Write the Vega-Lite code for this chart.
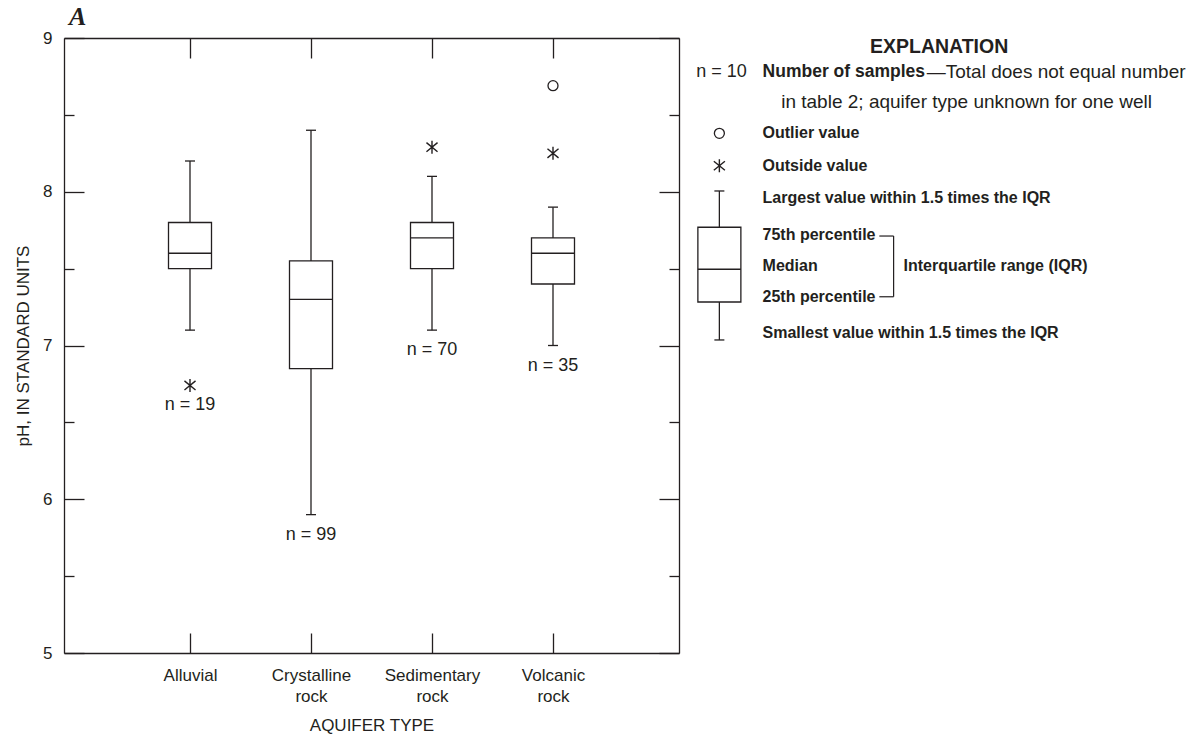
{
  "$schema": "https://vega.github.io/schema/vega-lite/v6.json",
  "width": 615,
  "height": 615,
  "autosize": {"type": "none"},
  "padding": {"left": 64, "top": 38, "right": 523, "bottom": 81},
  "background": "white",
  "config": {
    "view": {"stroke": null},
    "font": "Liberation Sans",
    "axis": {
      "domainColor": "#231f20",
      "tickColor": "#231f20",
      "labelColor": "#231f20",
      "titleColor": "#231f20",
      "domainWidth": 1.3,
      "tickWidth": 1.3,
      "grid": false,
      "labelFont": "Liberation Sans",
      "titleFont": "Liberation Sans",
      "titleFontWeight": "normal",
      "labelFlush": false,
      "labelOverlap": false,
      "labelBound": false
    }
  },
  "datasets": {
    "boxes": [
      {"type": "Alluvial", "pos": 1, "lo": 7.1, "q1": 7.5, "med": 7.6, "q3": 7.8, "hi": 8.2, "bottom": 6.74, "label": "n = 19"},
      {"type": "Crystalline rock", "pos": 2, "lo": 5.9, "q1": 6.85, "med": 7.3, "q3": 7.55, "hi": 8.4, "bottom": 5.9, "label": "n = 99"},
      {"type": "Sedimentary rock", "pos": 3, "lo": 7.1, "q1": 7.5, "med": 7.7, "q3": 7.8, "hi": 8.1, "bottom": 7.1, "label": "n = 70"},
      {"type": "Volcanic rock", "pos": 4, "lo": 7.0, "q1": 7.4, "med": 7.6, "q3": 7.7, "hi": 7.9, "bottom": 7.0, "label": "n = 35"},
      {"type": "Explanation", "pos": 5.375, "lo": 7.036, "q1": 7.283, "med": 7.496, "q3": 7.769, "hi": 8.005}
    ],
    "points": [
      {"pos": 1, "ph": 6.74, "kind": "outside"},
      {"pos": 3, "ph": 8.29, "kind": "outside"},
      {"pos": 4, "ph": 8.25, "kind": "outside"},
      {"pos": 4, "ph": 8.69, "kind": "outlier"},
      {"pos": 5.375, "ph": 8.169, "kind": "outside"},
      {"pos": 5.375, "ph": 8.38, "kind": "outlier"}
    ]
  },
  "layer": [
    {
      "data": {"name": "boxes"},
      "mark": {"type": "rule", "color": "#231f20", "strokeWidth": 1.3},
      "encoding": {
        "x": {
          "field": "pos", "type": "quantitative",
          "scale": {"domain": [0, 5], "nice": false, "zero": false},
          "axis": {
            "orient": "bottom",
            "values": [1, 2, 3, 4],
            "tickSize": -20,
            "labelExpr": "datum.value == 1 ? 'Alluvial' : datum.value == 2 ? ['Crystalline', 'rock'] : datum.value == 3 ? ['Sedimentary', 'rock'] : ['Volcanic', 'rock']",
            "labelFontSize": 17,
            "labelLineHeight": 21,
            "labelPadding": 34,
            "title": "AQUIFER TYPE",
            "titleFontSize": 17,
            "titlePadding": 13
          }
        },
        "y": {
          "field": "lo", "type": "quantitative",
          "scale": {"domain": [5, 9], "nice": false, "zero": false},
          "axis": {
            "orient": "left",
            "values": [5, 5.5, 6, 6.5, 7, 7.5, 8, 8.5, 9],
            "tickSize": {"condition": {"test": "datum.value % 1 === 0", "value": -20}, "value": -10},
            "labelExpr": "datum.value % 1 === 0 ? format(datum.value, 'd') : ''",
            "labelFontSize": 17,
            "labelPadding": 32,
            "title": "pH, IN STANDARD UNITS",
            "titleFontSize": 17,
            "titlePadding": 10
          }
        },
        "y2": {"field": "hi"}
      }
    },
    {
      "data": {"name": "boxes"},
      "mark": {"type": "bar", "fill": "white", "stroke": "#231f20", "strokeWidth": 1.3, "size": 43},
      "encoding": {
        "x": {
          "field": "pos", "type": "quantitative",
          "axis": {"orient": "top", "values": [1, 2, 3, 4], "tickSize": -20, "labels": false, "title": null}
        },
        "y": {
          "field": "q1", "type": "quantitative",
          "axis": {
            "orient": "right",
            "values": [5, 5.5, 6, 6.5, 7, 7.5, 8, 8.5, 9],
            "tickSize": {"condition": {"test": "datum.value % 1 === 0", "value": -20}, "value": -10},
            "labels": false,
            "title": null
          }
        },
        "y2": {"field": "q3"}
      }
    },
    {
      "data": {"name": "boxes"},
      "mark": {"type": "tick", "orient": "horizontal", "size": 43, "thickness": 1.3, "color": "#231f20", "opacity": 1},
      "encoding": {
        "x": {"field": "pos", "type": "quantitative", "axis": null},
        "y": {"field": "med", "type": "quantitative", "axis": null}
      }
    },
    {
      "data": {"name": "boxes"},
      "mark": {"type": "tick", "orient": "horizontal", "size": 10, "thickness": 1.3, "color": "#231f20", "opacity": 1},
      "encoding": {
        "x": {"field": "pos", "type": "quantitative", "axis": null},
        "y": {"field": "hi", "type": "quantitative", "axis": null}
      }
    },
    {
      "data": {"name": "boxes"},
      "mark": {"type": "tick", "orient": "horizontal", "size": 10, "thickness": 1.3, "color": "#231f20", "opacity": 1},
      "encoding": {
        "x": {"field": "pos", "type": "quantitative", "axis": null},
        "y": {"field": "lo", "type": "quantitative", "axis": null}
      }
    },
    {
      "data": {"name": "points"},
      "transform": [{"filter": "datum.kind === 'outside'"}],
      "mark": {"type": "point", "shape": "M0,-1V1M-0.85,-0.7L0.85,0.7M-0.85,0.7L0.85,-0.7", "size": 170, "filled": false, "stroke": "#231f20", "strokeWidth": 1.4, "opacity": 1},
      "encoding": {
        "x": {"field": "pos", "type": "quantitative", "axis": null},
        "y": {"field": "ph", "type": "quantitative", "axis": null}
      }
    },
    {
      "data": {"name": "points"},
      "transform": [{"filter": "datum.kind === 'outlier'"}],
      "mark": {"type": "point", "shape": "circle", "size": 100, "filled": false, "stroke": "#231f20", "strokeWidth": 1.3, "opacity": 1},
      "encoding": {
        "x": {"field": "pos", "type": "quantitative", "axis": null},
        "y": {"field": "ph", "type": "quantitative", "axis": null}
      }
    },
    {
      "data": {"name": "boxes"},
      "transform": [{"filter": "datum.label != null"}],
      "mark": {"type": "text", "fontSize": 18, "color": "#231f20", "baseline": "middle", "align": "center", "dy": 20},
      "encoding": {
        "x": {"field": "pos", "type": "quantitative", "axis": null},
        "y": {"field": "bottom", "type": "quantitative", "axis": null},
        "text": {"field": "label"}
      }
    },
    {
      "data": {"values": [{"x": 0, "y": 9, "t": "A"}]},
      "mark": {"type": "text", "font": "Liberation Serif", "fontStyle": "italic", "fontWeight": "bold", "fontSize": 26, "color": "#231f20", "baseline": "middle", "align": "left", "dx": 0, "dy": -21},
      "encoding": {
        "x": {"field": "x", "type": "quantitative", "axis": null},
        "y": {"field": "y", "type": "quantitative", "axis": null},
        "text": {"field": "t"}
      }
    },
    {
      "data": {"values": [{"x": 7.191, "y": 8.943, "t": "EXPLANATION"}]},
      "mark": {"type": "text", "fontWeight": "bold", "fontSize": 19.5, "color": "#231f20", "baseline": "middle", "align": "center"},
      "encoding": {
        "x": {"field": "x", "type": "quantitative", "axis": null},
        "y": {"field": "y", "type": "quantitative", "axis": null},
        "text": {"field": "t"}
      }
    },
    {
      "data": {"values": [{"x": 5.732, "y": 8.781, "t": "Number of samples"}]},
      "mark": {"type": "text", "fontWeight": "bold", "fontSize": 17.5, "color": "#231f20", "baseline": "middle", "align": "left"},
      "encoding": {
        "x": {"field": "x", "type": "quantitative", "axis": null},
        "y": {"field": "y", "type": "quantitative", "axis": null},
        "text": {"field": "t"}
      }
    },
    {
      "data": {"values": [
        {"x": 5.732, "y": 8.38, "t": "Outlier value"},
        {"x": 5.732, "y": 8.169, "t": "Outside value"},
        {"x": 5.732, "y": 7.957, "t": "Largest value within 1.5 times the IQR"},
        {"x": 5.732, "y": 7.717, "t": "75th percentile"},
        {"x": 5.732, "y": 7.519, "t": "Median"},
        {"x": 5.732, "y": 7.317, "t": "25th percentile"},
        {"x": 5.732, "y": 7.079, "t": "Smallest value within 1.5 times the IQR"},
        {"x": 6.897, "y": 7.519, "t": "Interquartile range (IQR)"}
      ]},
      "mark": {"type": "text", "fontWeight": "bold", "fontSize": 16, "color": "#231f20", "baseline": "middle", "align": "left"},
      "encoding": {
        "x": {"field": "x", "type": "quantitative", "axis": null},
        "y": {"field": "y", "type": "quantitative", "axis": null},
        "text": {"field": "t"}
      }
    },
    {
      "data": {"values": [
        {"x": 7.089, "y": 8.781, "t": "—Total does not equal number"},
        {"x": 5.886, "y": 8.586, "t": "in table 2; aquifer type unknown for one well"}
      ]},
      "mark": {"type": "text", "fontSize": 19, "color": "#231f20", "baseline": "middle", "align": "left"},
      "encoding": {
        "x": {"field": "x", "type": "quantitative", "axis": null},
        "y": {"field": "y", "type": "quantitative", "axis": null},
        "text": {"field": "t"}
      }
    },
    {
      "data": {"values": [{"x": 5.602, "y": 8.781, "t": "n = 10"}]},
      "mark": {"type": "text", "fontSize": 18, "color": "#231f20", "baseline": "middle", "align": "right"},
      "encoding": {
        "x": {"field": "x", "type": "quantitative", "axis": null},
        "y": {"field": "y", "type": "quantitative", "axis": null},
        "text": {"field": "t"}
      }
    },
    {
      "data": {"values": [
        {"x": 6.697, "x2": 6.815, "y": 7.712, "y2": 7.712},
        {"x": 6.697, "x2": 6.815, "y": 7.317, "y2": 7.317},
        {"x": 6.815, "x2": 6.815, "y": 7.712, "y2": 7.317}
      ]},
      "mark": {"type": "rule", "color": "#231f20", "strokeWidth": 1.2},
      "encoding": {
        "x": {"field": "x", "type": "quantitative", "axis": null},
        "x2": {"field": "x2"},
        "y": {"field": "y", "type": "quantitative", "axis": null},
        "y2": {"field": "y2"}
      }
    }
  ],
  "resolve": {"axis": {"x": "independent", "y": "independent"}}
}
